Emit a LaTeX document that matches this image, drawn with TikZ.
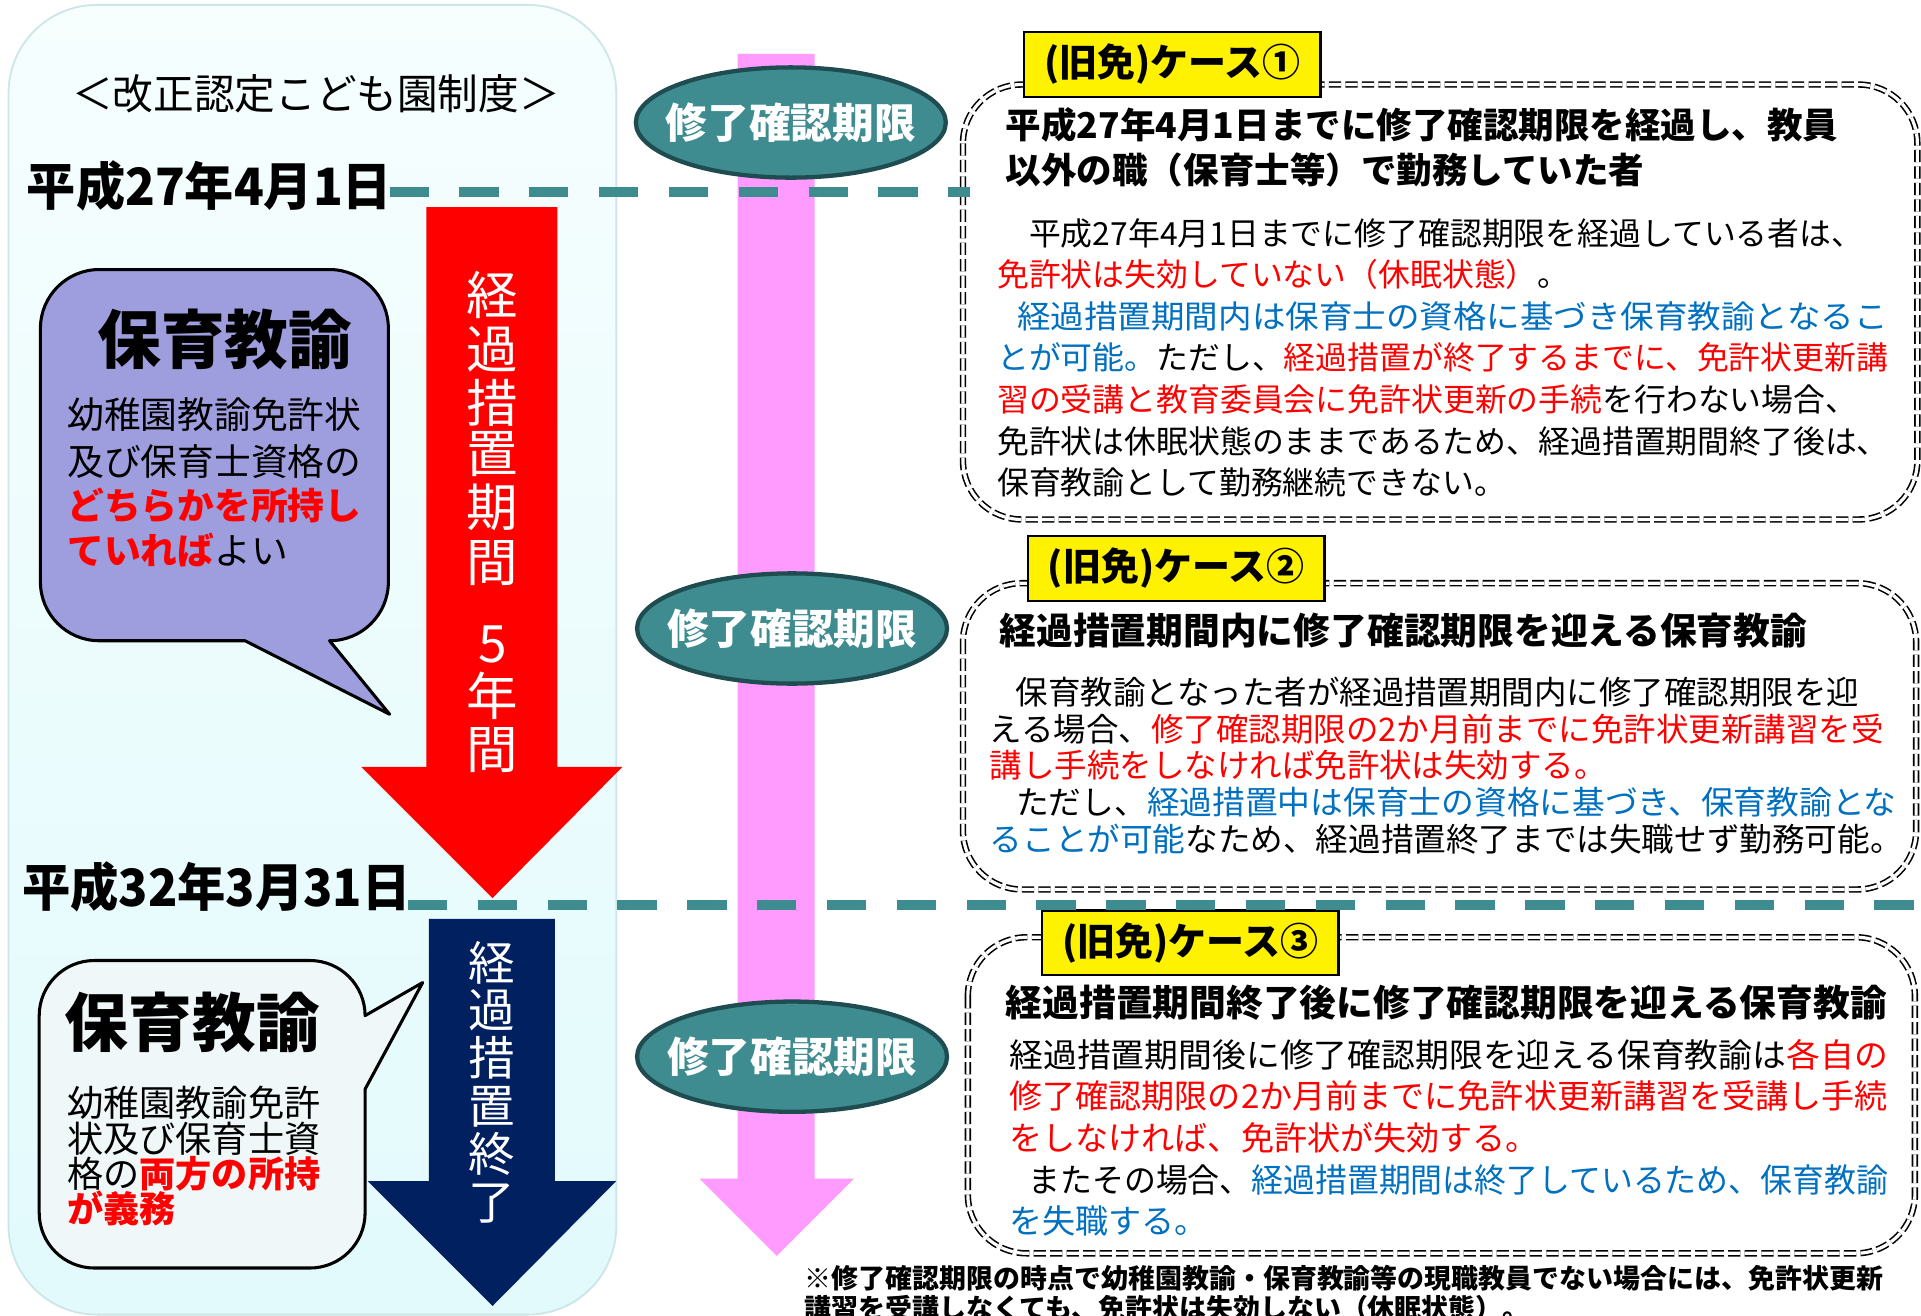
\documentclass[tikz,border=0pt]{standalone}
\usepackage{fontspec}
\setmainfont{Noto Sans CJK JP}
\usepackage{graphicx}
\usetikzlibrary{shapes.geometric}
\definecolor{tealc}{RGB}{62,140,144}
\definecolor{tealdk}{RGB}{30,76,80}
\definecolor{pinkc}{RGB}{255,155,255}
\definecolor{navyc}{RGB}{0,32,96}
\definecolor{lavc}{RGB}{158,158,222}
\definecolor{cltwo}{RGB}{240,247,249}
\definecolor{pantop}{RGB}{246,254,254}
\definecolor{panbot}{RGB}{226,250,252}
\definecolor{panedge}{RGB}{205,230,232}
\definecolor{bluec}{RGB}{0,112,192}
\definecolor{redc}{RGB}{255,0,0}
\newcommand{\redt}[1]{\textcolor{redc}{#1}}
\newcommand{\bluet}[1]{\textcolor{bluec}{#1}}
\newcommand{\fitw}[2]{\resizebox{#1}{\height}{#2}}
\begin{document}
\begin{tikzpicture}[x=1pt,y=-1pt,
  every node/.style={inner sep=0pt,outer sep=0pt},
  ln/.style={anchor=base west},
  casebox/.style={draw=black, double=white, double distance=2.6pt, line width=1.3pt, dash pattern=on 10pt off 3.5pt, rounded corners=48pt},
  labelbox/.style={draw=black, line width=2pt, fill=yellow, minimum width=242pt, minimum height=53pt, font=\bfseries\fontsize{31}{31}\selectfont},
  ell/.style={ellipse, draw=tealdk, line width=3.5pt, fill=tealc, minimum width=253pt, minimum height=90pt, text=white, font=\bfseries\fontsize{34}{34}\selectfont},
  tdash/.style={draw=tealc, line width=8pt, dash pattern=on 32pt off 25pt},
  hd/.style={anchor=base west, font=\bfseries\fontsize{29}{29}\selectfont},
  hdb/.style={anchor=base west, font=\bfseries\fontsize{30}{30}\selectfont},
  bodyA/.style={anchor=base west, font=\fontsize{26}{26}\selectfont},
  bodyB/.style={anchor=base west, font=\fontsize{26.5}{26.5}\selectfont},
  bodyC/.style={anchor=base west, font=\fontsize{27}{27}\selectfont},
  vred/.style={anchor=base, text=white, font=\fontsize{42}{42}\selectfont},
  vnavy/.style={anchor=base, text=white, font=\fontsize{38}{38}\selectfont}
]
\useasboundingbox (0,0) rectangle (1568,1074);
\fill[white] (0,0) rectangle (1568,1074);
% left panel
\path[draw=panedge, line width=1.5pt, top color=pantop, bottom color=panbot, rounded corners=72pt] (7,4) rectangle (503,1073);
% arrows
\fill[pinkc] (602,44) -- (665,44) -- (665,962) -- (697,962) -- (634,1025) -- (571,962) -- (602,962) -- cycle;
\fill[redc] (348,169) -- (455,169) -- (455,626) -- (508,626) -- (402,733) -- (295,626) -- (348,626) -- cycle;
\fill[navyc] (350,750) -- (453,750) -- (453,964) -- (503,964) -- (402,1066) -- (300,964) -- (350,964) -- cycle;
% callouts
\draw[fill=lavc, line width=2.5pt, line join=round] (81,220) -- (269,220) .. controls (295.5,220) and (317,241.5) .. (317,268) -- (317,475) .. controls (317,501.5) and (295.5,523) .. (269,523) -- (318,583) -- (200,523) -- (81,523) .. controls (54.5,523) and (33,501.5) .. (33,475) -- (33,268) .. controls (33,241.5) and (54.5,220) .. (81,220) -- cycle;
\draw[fill=cltwo, line width=2.5pt, line join=round] (77,784) -- (253,784) .. controls (277.8,784) and (298,804.2) .. (298,829) -- (345,802) -- (298,889) -- (298,990) .. controls (298,1014.8) and (277.8,1035) .. (253,1035) -- (77,1035) .. controls (52.2,1035) and (32,1014.8) .. (32,990) -- (32,829) .. controls (32,804.2) and (52.2,784) .. (77,784) -- cycle;
% case boxes
\draw[casebox] (786,69) rectangle (1565,424);
\draw[casebox] (786,476) rectangle (1564,726);
\draw[casebox] (790,765) rectangle (1563,1023);
\node[labelbox] (lab1) at (957,52.5) {(旧免)ケース①};
\node[labelbox] (lab2) at (960,464) {(旧免)ケース②};
\node[labelbox] (lab3) at (971.5,769.5) {(旧免)ケース③};
% ellipses
\node[ell] (e1) at (645.5,100) {\makebox[0pt]{修了確認期限}};
\node[ell] (e2) at (646.5,513) {\makebox[0pt]{修了確認期限}};
\node[ell] (e3) at (646.5,862.5) {\makebox[0pt]{修了確認期限}};
% dashed lines
\coordinate (l1s) at (318,157); \coordinate (l1e) at (792,157);
\coordinate (l2s) at (333,739); \coordinate (l2e) at (1568,739);
\draw[tdash] (l1s) -- (l1e);
\draw[tdash] (l2s) -- (l2e);
% left texts
\node[anchor=base, font=\fontsize{34}{34}\selectfont] (title) at (258,89) {\fitw{398pt}{＜改正認定こども園制度＞}};
\node[ln, font=\bfseries\fontsize{42}{42}\selectfont] (d1) at (22,168) {\fitw{298pt}{平成27年4月1日}};
\node[ln, font=\bfseries\fontsize{42}{42}\selectfont] (d2) at (18,740) {\fitw{317pt}{平成32年3月31日}};
\node[anchor=base, font=\bfseries\fontsize{52}{52}\selectfont] (h1) at (183.5,297) {保育教諭};
\node[ln, font=\fontsize{30}{30}\selectfont] (c1a) at (55,350) {幼稚園教諭免許状};
\node[ln, font=\fontsize{30}{30}\selectfont] (c1b) at (55,388) {及び保育士資格の};
\node[ln, font=\fontsize{30}{30}\selectfont] (c1c) at (55,424) {\textbf{\redt{どちらかを所持し}}};
\node[ln, font=\fontsize{30}{30}\selectfont] (c1d) at (55,461) {\textbf{\redt{ていれば}}よい};
\node[ln, font=\bfseries\fontsize{52}{52}\selectfont] (h2) at (53,854.5) {保育教諭};
\node[ln, font=\fontsize{29.5}{29.5}\selectfont] (c2a) at (55,911) {幼稚園教諭免許};
\node[ln, font=\fontsize{29.5}{29.5}\selectfont] (c2b) at (55,941) {状及び保育士資};
\node[ln, font=\fontsize{29.5}{29.5}\selectfont] (c2c) at (55,969) {格の\textbf{\redt{両方の所持}}};
\node[ln, font=\fontsize{29.5}{29.5}\selectfont] (c2d) at (55,998) {\textbf{\redt{が義務}}};
% vertical texts
\foreach \c/\yy [count=\i] in {経/256.5,過/300.5,措/344.5,置/386,期/430,間/475,5/541,年/584,間/627.5}
  \node[vred] (ra\i) at (402,\yy) {\c};
\foreach \c/\yy [count=\i] in {経/800,過/839,措/878,置/917,終/956,了/995}
  \node[vnavy] (na\i) at (401,\yy) {\c};
% case 1
\node[hd] (k1h1) at (821,113) {平成27年4月1日までに修了確認期限を経過し、教員};
\node[hd] (k1h2) at (821,150) {以外の職（保育士等）で勤務していた者};
\node[bodyA] (k1a) at (814,200) {　平成27年4月1日までに修了確認期限を経過している者は、};
\node[bodyA] (k1b) at (814,234) {\redt{免許状は失効していない（休眠状態）}。};
\node[bodyA] (k1c) at (814,268) {\fitw{727pt}{\bluet{\hspace{0.6em}経過措置期間内は保育士の資格に基づき保育教諭となるこ}}};
\node[bodyA] (k1d) at (814,302) {\bluet{とが可能。}ただし、\redt{経過措置が終了するまでに、免許状更新講}};
\node[bodyA] (k1e) at (814,336) {\redt{習の受講と教育委員会に免許状更新の手続}を行わない場合、};
\node[bodyA] (k1f) at (814,370) {免許状は休眠状態のままであるため、経過措置期間終了後は、};
\node[bodyA] (k1g) at (814,404) {保育教諭として勤務継続できない。};
% case 2
\node[hdb] (k2h) at (816,526) {経過措置期間内に修了確認期限を迎える保育教諭};
\node[bodyB] (k2a) at (808,575) {\hspace{0.8em}保育教諭となった者が経過措置期間内に修了確認期限を迎};
\node[bodyB] (k2b) at (808,605) {える場合、\redt{修了確認期限の2か月前までに免許状更新講習を受}};
\node[bodyB] (k2c) at (808,635) {\redt{講し手続をしなければ免許状は失効する。}};
\node[bodyB] (k2d) at (808,665) {\fitw{740pt}{\hspace{0.8em}ただし、\bluet{経過措置中は保育士の資格に基づき、保育教諭とな}}};
\node[bodyB] (k2e) at (808,695) {\fitw{745pt}{\bluet{ることが可能}なため、経過措置終了までは失職せず勤務可能。}};
% case 3
\node[hdb] (k3h) at (821,830) {経過措置期間終了後に修了確認期限を迎える保育教諭};
\node[bodyC] (k3a) at (824,871) {\fitw{717pt}{経過措置期間後に修了確認期限を迎える保育教諭は\redt{各自の}}};
\node[bodyC] (k3b) at (824,905) {\redt{修了確認期限の2か月前までに免許状更新講習を受講し手続}};
\node[bodyC] (k3c) at (824,939) {\redt{をしなければ、免許状が失効する。}};
\node[bodyC] (k3d) at (824,973) {\fitw{717pt}{\hspace{0.6em}またその場合、\bluet{経過措置期間は終了しているため、保育教諭}}};
\node[bodyC] (k3e) at (824,1007) {\bluet{を失職する。}};
% footnote
\node[ln, font=\bfseries\fontsize{22}{22}\selectfont] (fn1) at (657,1052) {※修了確認期限の時点で幼稚園教諭・保育教諭等の現職教員でない場合には、免許状更新};
\node[ln, font=\bfseries\fontsize{22}{22}\selectfont] (fn2) at (657,1076) {講習を受講しなくても、免許状は失効しない（休眠状態）。};
\end{tikzpicture}
\end{document}
